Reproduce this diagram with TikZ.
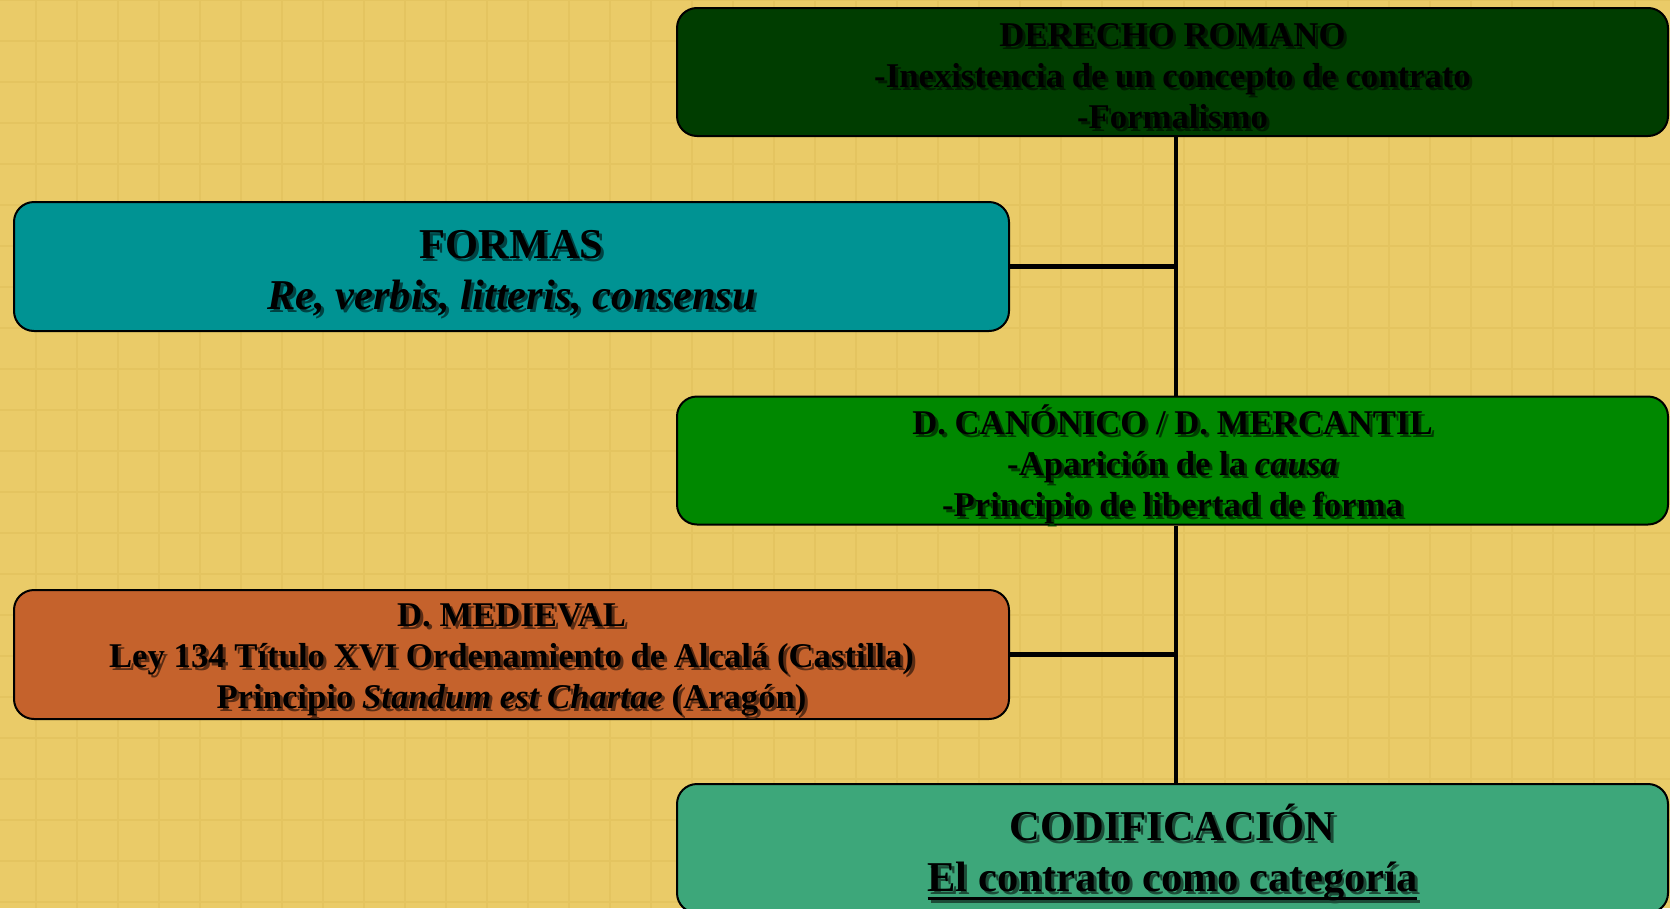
\documentclass[tikz,border=0pt]{standalone}
\usepackage{fontspec}
\setmainfont{Liberation Serif}
\definecolor{bg}{RGB}{234,203,104}
\definecolor{gridc}{RGB}{228,196,96}
\definecolor{cRoman}{RGB}{0,61,0}
\definecolor{cFormas}{RGB}{0,147,147}
\definecolor{cCanon}{RGB}{0,136,0}
\definecolor{cMed}{RGB}{197,98,44}
\definecolor{cCod}{RGB}{61,167,122}
\colorlet{shadowc}{black!50}
\newcommand{\sh}[1]{\makebox[0pt][l]{\hspace*{3pt}\raisebox{-3pt}[0pt][0pt]{\textcolor{shadowc}{#1}}}#1}
\newcommand{\ulthick}[1]{\setbox0\hbox{#1}\rlap{\rule[-8.5pt]{\wd0}{3.2pt}}\box0}
\newcommand{\strt}[1]{\rule{0pt}{#1}}
\begin{document}
\begin{tikzpicture}[x=1pt,y=-1pt,
  box/.style={draw=black, line width=2pt, rounded corners=20pt, inner sep=0pt,
    align=center, text=black, font=\bfseries\fontsize{34.7}{41}\selectfont},
  bigtext/.style={font=\bfseries\fontsize{42.5}{51}\selectfont},
  rightbox/.style={box, minimum width=991pt, minimum height=128pt},
  leftbox/.style={box, minimum width=995pt, minimum height=129pt},
  txtshadow/.style={execute at begin node={\colorlet{shadowc}{black!55!#1}}},
  conn/.style={draw=black, line width=4.5pt},
  gridline/.style={draw=gridc, line width=1.3pt}
]
\useasboundingbox (0,0) rectangle (1670,908);
\clip (0,0) rectangle (1670,908);
\fill[bg] (0,0) rectangle (1670,908);
\foreach \gx in {-5,36,...,1680} \draw[gridline] (\gx,0) -- (\gx,908);
\foreach \gy in {0,41,...,920} \draw[gridline] (0,\gy) -- (1670,\gy);

\coordinate (spine) at (1176,0);

\node[rightbox, fill=cRoman, txtshadow=cRoman] (roman) at (1172.5,72)
  {\strt{32pt}\sh{DERECHO ROMANO}\\ \sh{-Inexistencia de un concepto de contrato}\\ \sh{-Formalismo}};
\node[leftbox, fill=cFormas, txtshadow=cFormas, bigtext] (formas) at (511.5,266.5)
  {\strt{41pt}\sh{FORMAS}\\ \sh{\textit{Re, verbis, litteris, consensu}}};
\node[rightbox, fill=cCanon, txtshadow=cCanon] (canon) at (1172.5,460.5)
  {\strt{38pt}\sh{D. CANÓNICO / D. MERCANTIL}\\ \sh{-Aparición de la \textit{causa}}\\ \sh{-Principio de libertad de forma}};
\node[leftbox, fill=cMed, txtshadow=cMed] (medieval) at (511.5,654.5)
  {\strt{34pt}\sh{D. MEDIEVAL}\\ \sh{Ley 134 Título XVI Ordenamiento de Alcalá (Castilla)}\\ \sh{Principio \textit{Standum est Chartae} (Aragón)}};
\node[rightbox, fill=cCod, txtshadow=cCod, bigtext, minimum height=129pt] (codif) at (1172.5,848.5)
  {\strt{45pt}\sh{CODIFICACIÓN}\\ \sh{\ulthick{El contrato como categoría}}};

\draw[conn] (roman.south -| spine) -- (canon.north -| spine);
\draw[conn] (canon.south -| spine) -- (codif.north -| spine);
\draw[conn] (formas.east) -- (formas.east -| spine);
\draw[conn] (medieval.east) -- (medieval.east -| spine);
\end{tikzpicture}
\end{document}
